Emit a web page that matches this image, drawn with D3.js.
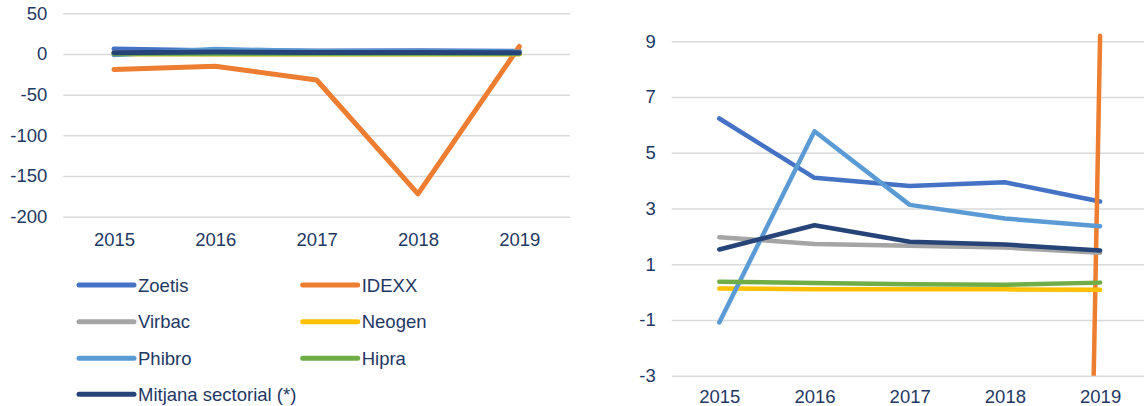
<!DOCTYPE html>
<html>
<head>
<meta charset="utf-8">
<script src="https://cdn.jsdelivr.net/npm/d3@7"></script>
<style>
  body { margin: 0; background: #ffffff; }
  svg text { font-family: "Liberation Sans", Arial, sans-serif; fill: #1f3864; }
</style>
</head>
<body>
<div id="chart"></div>
<script>
var years = ["2015", "2016", "2017", "2018", "2019"];

var zoetis  = [6.23, 4.10, 3.81, 3.94, 3.25];
var idexx   = [-19, -15, -32, -172, 9.2];
var virbac  = [1.97, 1.73, 1.66, 1.60, 1.41];
var neogen  = [0.13, 0.10, 0.10, 0.10, 0.08];
var phibro  = [-1.09, 5.77, 3.13, 2.64, 2.36];
var hipra   = [0.37, 0.33, 0.28, 0.26, 0.34];
var mitjana = [1.53, 2.40, 1.81, 1.71, 1.49];

var leftTicks = [50, 0, -50, -100, -150, -200];
var rightTicks = [9, 7, 5, 3, 1, -1, -3];

var names = ["Zoetis", "IDEXX", "Virbac", "Neogen", "Phibro", "Hipra", "Mitjana sectorial (*)"];
var colors = ["#4472c4", "#ed7d31", "#a5a5a5", "#ffc000", "#5b9bd5", "#70ad47", "#264478"];

var series = [zoetis, idexx, virbac, neogen, phibro, hipra, mitjana].map(function(vals, i) {
    return {name: names[i], color: colors[i], values: vals};
});

var width = 1144;
var height = 406;
var fontSize = 18.5;

var svg = d3.select("#chart").append("svg")
    .attr("width", width)
    .attr("height", height);

function drawPanel(opt) {
    var x = d3.scalePoint()
        .domain(years)
        .range([opt.left, opt.right])
        .padding(0.5);

    var y = d3.scaleLinear()
        .domain(opt.domain)
        .range([opt.bottom, opt.top]);

    var g = svg.append("g");

    // gridlines + y labels (plain hyphen for negatives, like the original)
    var yAxis = g.append("g")
        .attr("transform", "translate(" + opt.left + ",0)")
        .call(d3.axisLeft(y)
            .tickValues(opt.ticks)
            .tickSize(-(opt.right - opt.left))
            .tickPadding(16)
            .tickFormat(function(d) { return String(d); }));
    yAxis.select(".domain").remove();
    yAxis.selectAll("line")
        .attr("stroke", "#d9d9d9")
        .attr("stroke-width", 1.5);
    yAxis.selectAll("text")
        .attr("font-size", fontSize)
        .attr("fill", "#1f3864");

    // x labels
    var xAxis = g.append("g")
        .attr("transform", "translate(0," + opt.bottom + ")")
        .call(d3.axisBottom(x).tickSize(0).tickPadding(opt.xPad));
    xAxis.select(".domain").remove();
    xAxis.selectAll("text")
        .attr("font-size", fontSize)
        .attr("fill", "#1f3864");

    var clipId = "clip" + opt.id;
    svg.append("clipPath")
        .attr("id", clipId)
        .append("rect")
        .attr("x", opt.left)
        .attr("y", 0)
        .attr("width", width - opt.left)
        .attr("height", opt.bottom);

    var line = d3.line()
        .x(function(d, i) { return x(years[i]); })
        .y(function(d) { return y(d); });

    g.append("g")
        .attr("clip-path", "url(#" + clipId + ")")
        .selectAll("path")
        .data(series)
        .enter()
        .append("path")
        .attr("d", function(d) { return line(d.values); })
        .attr("fill", "none")
        .attr("stroke", function(d) { return d.color; })
        .attr("stroke-width", opt.lw)
        .attr("stroke-linecap", "round")
        .attr("stroke-linejoin", "round");
}

drawPanel({id: "L", left: 63.3, right: 570, top: 13.3, bottom: 216.7,
    domain: [-200, 50], ticks: leftTicks, xPad: 16, lw: 5});

drawPanel({id: "R", left: 671.7, right: 1147.7, top: 41.3, bottom: 375.7,
    domain: [-3, 9], ticks: rightTicks, xPad: 14, lw: 4.5});

// legend, two columns
var legend = svg.append("g");
var colX = [79, 302.7];
var rowY = [285, 321.7, 358.3, 394.3];

var item = legend.selectAll("g")
    .data(series)
    .enter()
    .append("g")
    .attr("transform", function(d, i) {
        return "translate(" + colX[i % 2] + "," + rowY[Math.floor(i / 2)] + ")";
    });

item.append("line")
    .attr("x1", 0)
    .attr("x2", 55)
    .attr("stroke", function(d) { return d.color; })
    .attr("stroke-width", 5)
    .attr("stroke-linecap", "round");

item.append("text")
    .attr("x", 59)
    .attr("dy", "0.36em")
    .attr("font-size", fontSize)
    .text(function(d) { return d.name; });
</script>
</body>
</html>
